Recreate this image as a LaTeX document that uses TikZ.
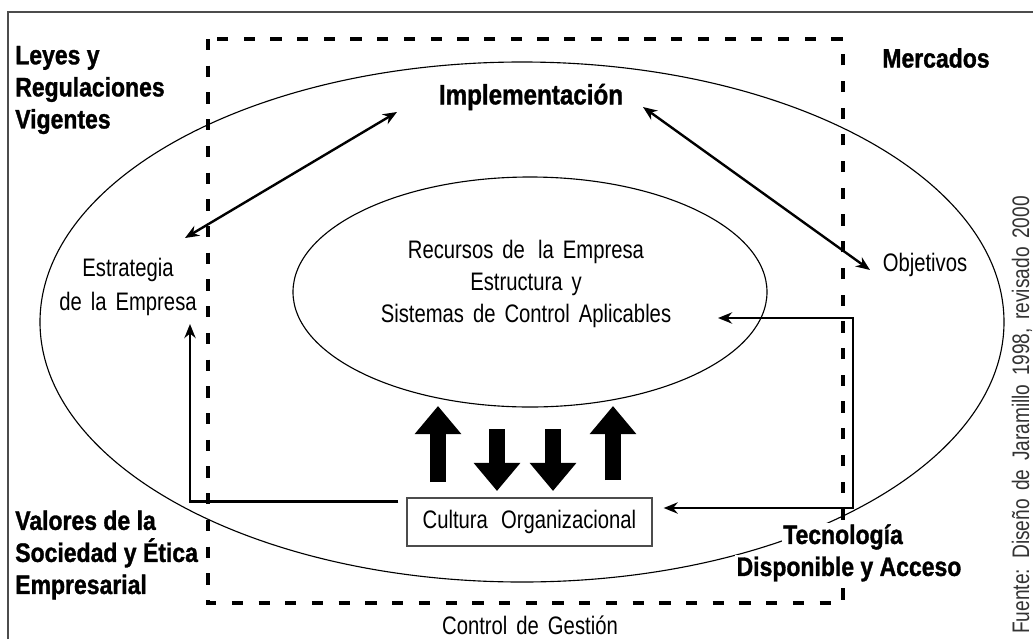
\documentclass[tikz,border=0pt]{standalone}
\usepackage{fontspec}
\setmainfont{Liberation Sans}[FakeStretch=0.80,WordSpace=1.6]
\newfontfamily\negrita{Liberation Sans}[FakeStretch=0.86,BoldFeatures={FakeBold=1.2}]
\usetikzlibrary{arrows.meta}
\usetikzlibrary{calc}

\tikzset{
  texto/.style={font=\fontsize{18}{22.8}\selectfont,align=center,inner sep=0pt},
  rotulo/.style={font=\negrita\bfseries\fontsize{19}{22.8}\selectfont,align=left,inner sep=0pt},
  enlace/.style={line width=1.7pt,>={Stealth[length=10pt,width=8pt]}},
  flecha/.style={line width=12pt,-{Triangle[length=20pt,width=32pt]}},
}

\begin{document}
\begin{tikzpicture}[x=0.025cm,y=-0.025cm]
  \useasboundingbox (0,0) rectangle (1033,639);
  % marco exterior
  \draw[gray!60!black,line width=1.3pt] (8,639) -- (8,12) -- (1033,12);
  % elipses
  \draw[line width=0.8pt] (522,322) ellipse [x radius=482,y radius=260];
  \draw[line width=0.8pt] (530,292) ellipse [x radius=237,y radius=115];
  % control de gestion
  \draw[line width=2.9pt,dash pattern=on 8pt off 11pt] (208,39) rectangle (843,603);

  \node[rotulo,anchor=west] (leyes) at (15,90) {Leyes y\\Regulaciones\\Vigentes};
  \node[rotulo] (mercados) at (936,58) {Mercados};
  \node[rotulo,font=\negrita\bfseries\fontsize{20}{24}\selectfont] (impl) at (531,97) {Implementación};
  \node[rotulo,anchor=west] (valores) at (15,555) {Valores de la\\Sociedad y Ética\\Empresarial};
  \node[rotulo,fill=white,inner sep=1pt] (tecno) at (843,537) {Tecnología};
  \node[rotulo,fill=white,inner sep=1pt] (acceso) at (849,569) {Disponible y Acceso};

  \node[texto,font=\fontsize{18}{24}\selectfont] (estrategia) at (128,287) {Estrategia\\de la Empresa};
  \node[texto] (objetivos) at (925,265) {Objetivos};
  \node[texto] (recursos) at (526,284) {Recursos de\hspace{3pt} la Empresa\\Estructura y\\Sistemas de Control Aplicables};
  \node[texto,draw=gray!60!black,line width=0.9pt,minimum width=245*0.7113pt,minimum height=48*0.7113pt] (cultura) at (529.5,522) {Cultura\hspace{3pt} Organizacional};
  \node[texto] (control) at (530,625) {Control de Gestión};
  \node[texto,rotate=90,text=gray!40!black,font=\fontsize{17}{20}\selectfont] (fuente) at (1022,415) {Fuente: Diseño de Jaramillo 1998, revisado 2000};

  % flechas
  \coordinate (e1) at (185,238);
  \coordinate (i1) at (397,112);
  \coordinate (i2) at (643,107);
  \coordinate (o1) at (870,270);
  \coordinate (e2) at (190,324);
  \coordinate (s1) at (718,318);
  \draw[enlace,<->] (e1) -- (i1);
  \draw[enlace,<->] (i2) -- (o1);
  \draw[enlace,->] ($(cultura.north west)+(-8,4)$) -| (e2);
  \draw[enlace,<->] (s1) -| (853,508) -- ($(cultura.east)+(11,-14)$);

  \draw[flecha] (438,482) -- (438,406);
  \draw[flecha] (497,429) -- (497,491);
  \draw[flecha] (553,429) -- (553,491);
  \draw[flecha] (613,480) -- (613,406);
\end{tikzpicture}
\end{document}
